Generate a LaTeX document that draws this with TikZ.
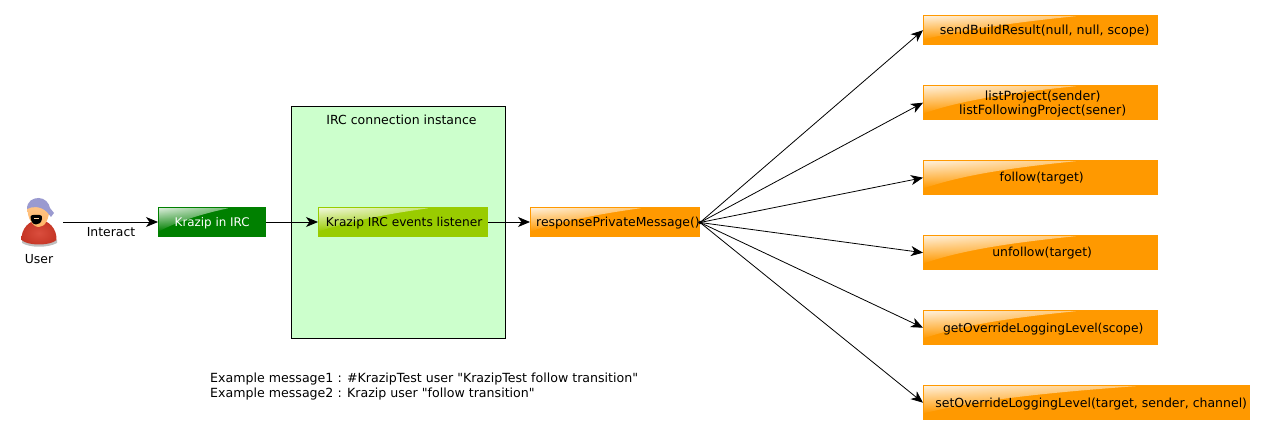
\documentclass[tikz,border=0pt]{standalone}
\usepackage{fontspec}
\setmainfont{DejaVu Sans}[Ligatures=TeXOff]
\usetikzlibrary{arrows.meta,calc,fadings}
\definecolor{orangebox}{HTML}{FF9900}
\definecolor{limebox}{HTML}{99CC00}
\definecolor{greenbox}{HTML}{008000}
\definecolor{panel}{HTML}{CCFFCC}
\definecolor{bandana}{HTML}{9A9AD0}
\definecolor{skin}{HTML}{FFB566}
\definecolor{shirt}{HTML}{D63A28}
\tikzfading[name=glossfade,top color=transparent!15,bottom color=transparent!100]
\newcommand{\fsz}[1]{\fontsize{#1}{14}\selectfont}
\tikzset{
  lab/.style={font=\fsz{12.4},inner sep=0pt,text=black},
  gloss/.style={lab,anchor=north west,fill=#1,minimum height=30pt,align=center,
    text height=11pt,text depth=2.4pt,
    path picture={
      \path (path picture bounding box.north west) coordinate (gnw)
            (path picture bounding box.south east) coordinate (gse);
      \shade[left color=white,right color=#1!45!white,path fading=glossfade,fit fading=true]
        ($(gnw)+(1,1)$) -- ($(gnw)!0.65!(gse|-gnw)+(0,1)$) .. controls ($(gnw)!0.35!(gse|-gnw)+(0,8)$) and ($(gnw)!0.15!(gse|-gnw)+(0,16)$) .. ($(gnw)!0.8!(gnw|-gse)+(1,0)$) -- cycle;
    }},
  flow/.style={-{Stealth[length=12pt,width=10pt,inset=3.5pt]},black,line width=0.8pt},
}
\begin{document}
\begin{tikzpicture}[x=1pt,y=-1pt]
\useasboundingbox (0,0) rectangle (1265,435);
% user icon
\fill[black!25] (22,243) .. controls (30,248) and (48,248) .. (57,243) -- (57,240) -- (22,240) -- cycle;
\shade[inner color=shirt!90!white,outer color=shirt!92!black] (21.5,240) .. controls (21,229) and (29,220) .. (39,220) .. controls (49,220) and (57,229) .. (56.5,240) .. controls (50,246) and (28,246) .. (21.5,240) -- cycle;
\shade[top color=skin!80!white,bottom color=skin] (27.5,207) .. controls (27,219) and (33,227) .. (39,227) .. controls (45,227) and (49.5,219) .. (49.5,207) -- cycle;
\fill[bandana] (27,209) .. controls (27,201) and (33,198) .. (38.5,198) .. controls (45,198) and (49,203) .. (50,208) -- (54,213) -- (51,217) -- (47,212) .. controls (41,206) and (32,206) .. (27,209) -- cycle;
\fill[black] (30.5,216.5) .. controls (31,214) and (38,215) .. (39.5,215) .. controls (41.5,215) and (42.5,216) .. (42,219) .. controls (41,223) and (39,224.5) .. (36,224.5) .. controls (33,224.5) and (30.5,221) .. (30.5,216.5) -- cycle;
\fill[skin!60!white] (33.5,218.2) rectangle (39,219);
\coordinate (userout) at (63,222);
\node[lab] (userlabel) at (39,259) {User};
% panel
\node[draw=black,fill=panel,line width=0.8pt,anchor=north west,minimum width=214pt,minimum height=232pt,inner sep=0pt] (panelbox) at (291,106) {};
\node[lab,font=\fsz{12.5}] (paneltitle) at (401.5,120) {IRC connection instance};
% main row
\node[gloss=greenbox,minimum width=108pt,text=white,font=\fsz{11.9}] (krazip) at (158,207) {Krazip in IRC};
\node[gloss=limebox,minimum width=170pt,font=\fsz{12.2}] (listener) at (318,207) {\hspace*{2pt}Krazip IRC events listener};
\node[gloss=orangebox,minimum width=170pt,text width=170pt,align=left] (response) at (530,207) {\hspace*{6pt}responsePrivateMessage()};
\coordinate (hub) at (700,222.5);
\fill[black] (hub) circle (1.8pt);
% targets
\node[gloss=orangebox,minimum width=235pt,font=\fsz{12.6}] (t1) at (923,15) {\hspace*{8pt}sendBuildResult(null, null, scope)};
\node[gloss=orangebox,minimum width=235pt,minimum height=35pt,font=\fsz{12.7},text height=,text depth=] (t2) at (923,85) {\rule{0pt}{11.4pt}\hspace*{4pt}listProject(sender)\\\hspace*{4pt}listFollowingProject(sener)};
\node[gloss=orangebox,minimum width=235pt,minimum height=35pt] (t3) at (923,160) {\hspace*{2pt}follow(target)};
\node[gloss=orangebox,minimum width=235pt,minimum height=35pt] (t4) at (923,235) {\hspace*{3pt}unfollow(target)};
\node[gloss=orangebox,minimum width=235pt,minimum height=35pt,font=\fsz{12.3}] (t5) at (923,310) {\hspace*{5pt}getOverrideLoggingLevel(scope)};
\node[gloss=orangebox,minimum width=327pt,minimum height=35pt,font=\fsz{12.5}] (t6) at (923,385) {\hspace*{9pt}setOverrideLoggingLevel(target, sender, channel)};
% connectors
\draw[flow] (userout) -- (krazip.west|-userout);
\node[lab] (interact) at (111,232) {Interact};
\draw[flow] (krazip.east|-userout) -- (listener.west|-userout);
\draw[flow] (listener.east|-userout) -- (response.west|-userout);
\foreach \t in {t1,t2,t3,t4,t5,t6}{\draw[flow] (hub) -- (\t.west);}
% note
\node[lab,anchor=north west,align=left,font=\fontsize{12.6}{15.5}\selectfont] (note) at (210,372.5) {Example message1 : \#KrazipTest user "KrazipTest follow transition"\\Example message2 : Krazip user "follow transition"};
\end{tikzpicture}
\end{document}
